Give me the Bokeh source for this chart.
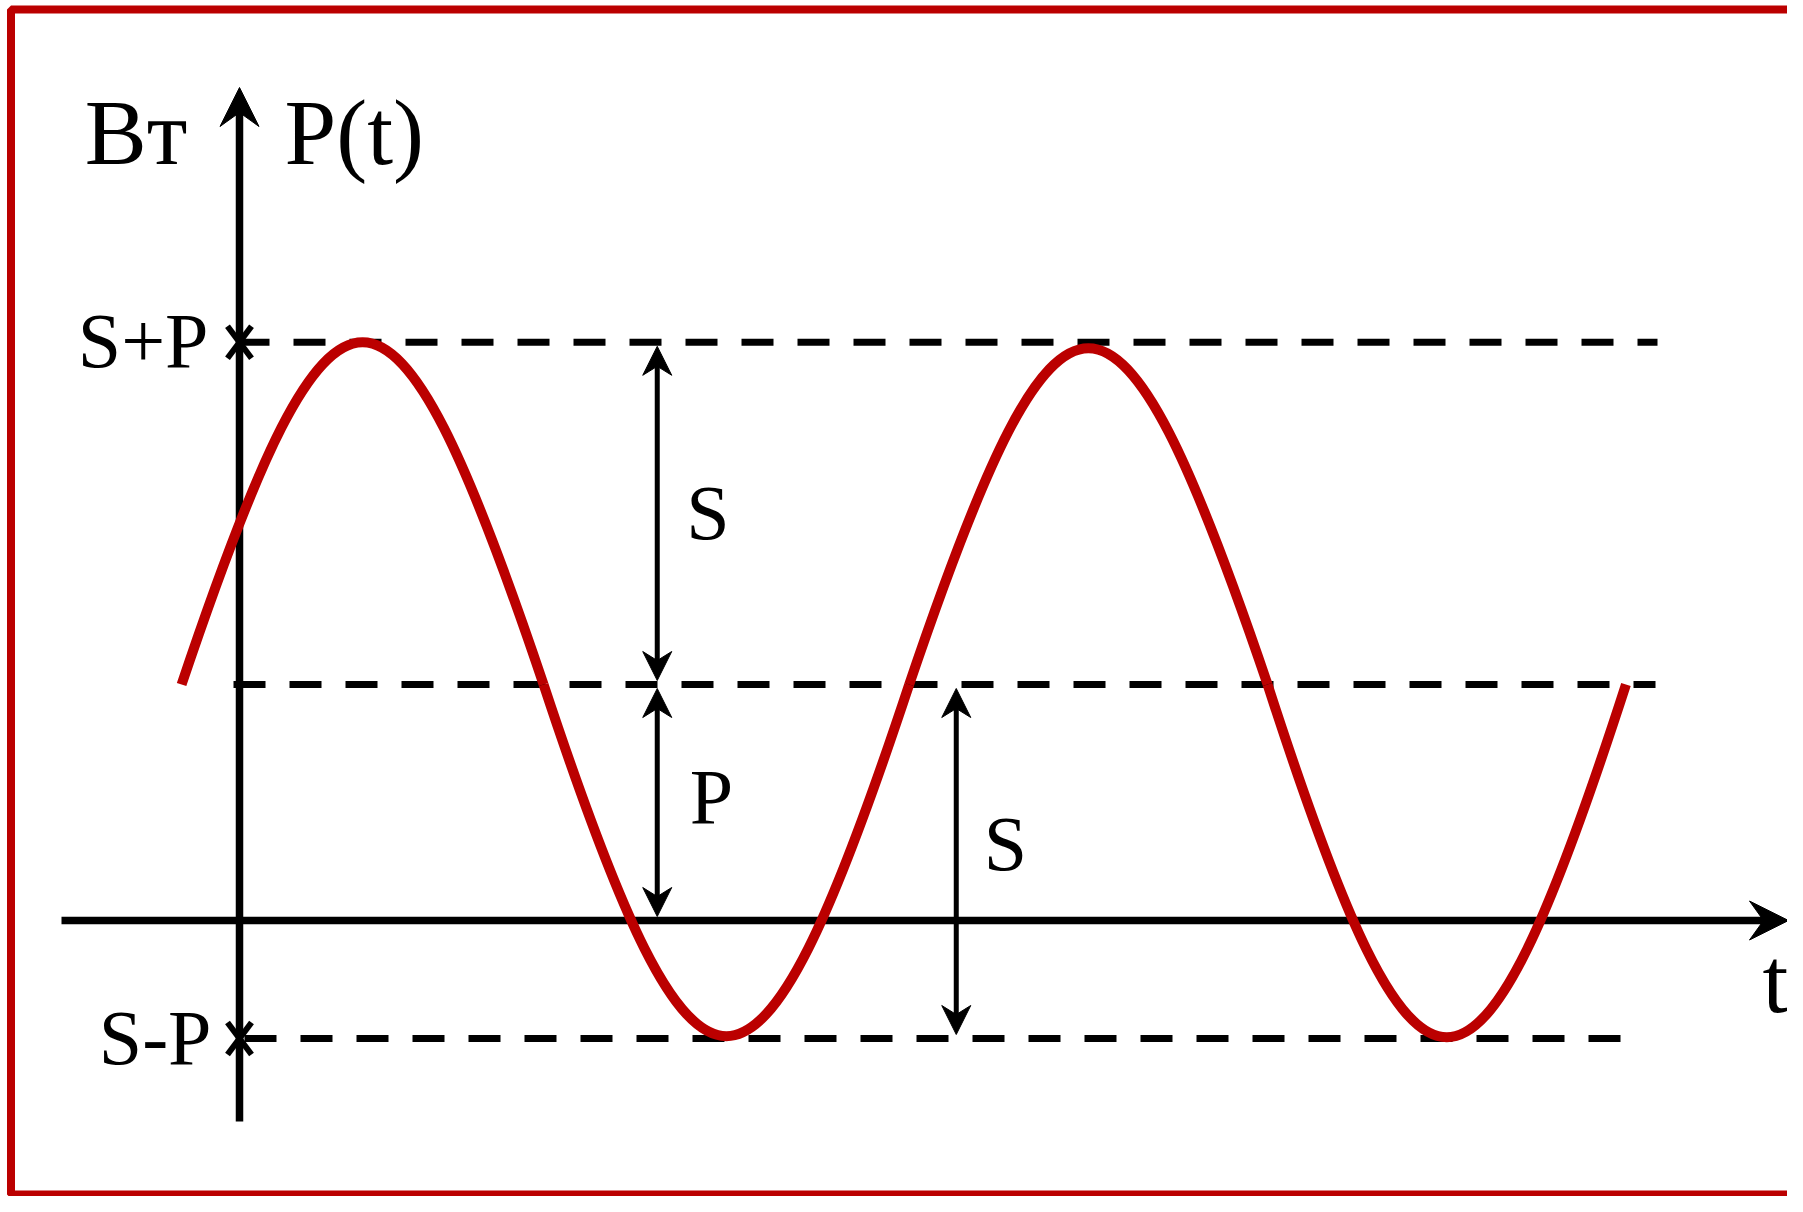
from bokeh.plotting import figure
from bokeh.models import Range1d
from bokeh.embed import file_html
from bokeh.resources import INLINE
from bokeh.core.properties import value

# ---------------- data ----------------
# signal levels (arbitrary units, time axis at 0)
S_LEVEL = 2.0
SP_TOP = 4.9      # S+P
SP_BOT = -1.0     # S-P
level_values = [SP_TOP, S_LEVEL, SP_BOT]
level_labels = ["S+P", "", "S-P"]

# P(t) drawn as four half-wave arcs: start time, end time, extreme value
# (time measured in half-periods, y axis at t = 0)
arc_start = [-0.16, 0.84, 1.85, 2.84]
arc_end = [0.84, 1.85, 2.84, 3.83]
arc_extreme = [4.90, -0.98, 4.85, -0.99]

# dimension arrows: time position, from level, to level, label
dim_t = [1.154, 1.154, 1.98]
dim_from = [2.0, 0.0, -1.0]
dim_to = [4.9, 2.0, 2.0]
dim_label = ["S", "P", "S"]

# ---------------- layout (screen mapping) ----------------
W, H = 1787, 1196
OFF = 0
X0, SX = 239.0, 362.0    # px of t=0, px per half-period
Y0, SY = 920.0, 118.0    # px of level 0, px per unit

def tx(px):
    return (px - X0) / SX

def ty(py):
    return (Y0 - py) / SY

def dx(d):
    return d / SX

def dy(d):
    return d / SY

RED = "#bb0000"
FONT = value("Liberation Serif")
BIG_PX, SMALL_PX = 93, 78
BIG = f"{BIG_PX}px"
SMALL = f"{SMALL_PX}px"
BASE_SHIFT = 0.36   # correction of the rendered baseline, in em

p = figure(width=W, height=H, output_backend="svg", toolbar_location=None,
           x_range=Range1d(tx(OFF), tx(OFF + W)), y_range=Range1d(ty(OFF + H), ty(OFF)),
           x_axis_location=None, y_axis_location=None, min_border=0,
           background_fill_color="white", border_fill_color="white")
p.outline_line_color = None
p.grid.visible = False

# red frame (right side lies outside the picture)
p.quad(left=[tx(10.5)], right=[tx(1830)], top=[ty(9)], bottom=[ty(1194)],
       fill_color=None, line_color=RED, line_width=8)

# dashed level lines
dash_start_px = [237, 233, 244]
dash_end_px = [1657, 1655, 1620]
p.segment(x0=[tx(v) for v in dash_start_px], y0=level_values,
          x1=[tx(v) for v in dash_end_px], y1=level_values,
          line_color="black", line_width=7, line_dash="32 24")


def head(xt, yt, direction, length, hw, notch):
    if direction == "up":
        return ([xt, xt + dx(hw), xt, xt - dx(hw)],
                [yt, yt - dy(length), yt - dy(notch), yt - dy(length)])
    if direction == "down":
        return ([xt, xt + dx(hw), xt, xt - dx(hw)],
                [yt, yt + dy(length), yt + dy(notch), yt + dy(length)])
    # right
    return ([xt, xt - dx(length), xt - dx(notch), xt - dx(length)],
            [yt, yt + dy(hw), yt, yt - dy(hw)])


heads_x, heads_y = [], []

# axes
y_tip = ty(87)
x_tip = tx(1788)
p.segment(x0=[0, tx(61)], y0=[ty(1121), 0], x1=[0, x_tip - dx(24)], y1=[y_tip - dy(24), 0],
          line_color="black", line_width=7.5)
hx, hy = head(0, y_tip, "up", 39, 19.5, 25)
heads_x.append(hx); heads_y.append(hy)
hx, hy = head(x_tip, 0, "right", 39, 19.5, 25)
heads_x.append(hx); heads_y.append(hy)

# small crosses at S+P and S-P on the vertical axis
for lv, lab in zip(level_values, level_labels):
    if not lab:
        continue
    p.segment(x0=[-dx(12), -dx(12)], y0=[lv - dy(16), lv + dy(16)],
              x1=[dx(12), dx(12)], y1=[lv + dy(16), lv - dy(16)],
              line_color="black", line_width=6)

# P(t) curve
k = 4.0 / (3.0 * 3.141592653589793)
cx0 = [a + k * (b - a) for a, b in zip(arc_start, arc_end)]
cx1 = [b - k * (b - a) for a, b in zip(arc_start, arc_end)]
cy = [S_LEVEL + 4.0 / 3.0 * (e - S_LEVEL) for e in arc_extreme]
p.bezier(x0=arc_start, y0=[S_LEVEL] * 4, x1=arc_end, y1=[S_LEVEL] * 4,
         cx0=cx0, cy0=cy, cx1=cx1, cy1=cy, line_color=RED, line_width=10)

# dimension arrows
GAP = 4
for t, a, b in zip(dim_t, dim_from, dim_to):
    lo, hi = min(a, b), max(a, b)
    top_tip = hi - dy(GAP)
    bot_tip = lo + dy(GAP)
    p.segment(x0=[t], y0=[bot_tip + dy(19)], x1=[t], y1=[top_tip - dy(19)],
              line_color="black", line_width=5)
    hx, hy = head(t, top_tip, "up", 29, 14.5, 20)
    heads_x.append(hx); heads_y.append(hy)
    hx, hy = head(t, bot_tip, "down", 29, 14.5, 20)
    heads_x.append(hx); heads_y.append(hy)

p.patches(xs=heads_x, ys=heads_y, fill_color="black", line_color="black", line_width=1)

# texts (baselines given in px, corrected for the rendered baseline)
def by_big(py):
    return ty(py - BASE_SHIFT * BIG_PX)

def by_small(py):
    return ty(py - BASE_SHIFT * SMALL_PX)

p.text(x=[tx(135.5)], y=[by_big(165)], text=["Вт"], text_font=FONT, text_font_size=BIG,
       text_align="center", text_baseline="alphabetic", text_color="black")
p.text(x=[tx(284)], y=[by_big(165)], text=["P(t)"], text_font=FONT, text_font_size=BIG,
       text_align="left", text_baseline="alphabetic", text_color="black")
p.text(x=[tx(1775)], y=[by_big(1013)], text=["t"], text_font=FONT, text_font_size=BIG,
       text_align="center", text_baseline="alphabetic", text_color="black")
p.text(x=[tx(208), tx(211)], y=[by_small(368), by_small(1065)], text=["S+P", "S-P"],
       text_font=FONT, text_font_size=SMALL, text_align="right",
       text_baseline="alphabetic", text_color="black")
lab_x = [tx(707.5), tx(711), tx(1005)]
lab_y = [by_small(540), by_small(824), by_small(871)]
p.text(x=lab_x, y=lab_y, text=dim_label, text_font=FONT, text_font_size=SMALL,
       text_align="center", text_baseline="alphabetic", text_color="black")

open("out.html", "w").write(file_html(p, INLINE))
